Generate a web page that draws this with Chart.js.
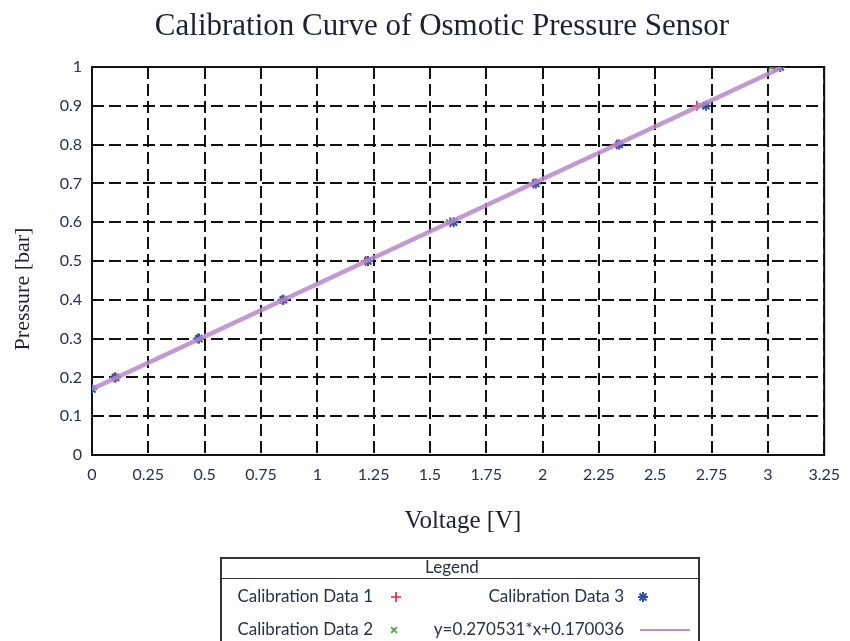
<!DOCTYPE html>
<html>
<head>
<meta charset="utf-8">
<script src="https://cdn.jsdelivr.net/npm/chart.js@4.4.1/dist/chart.umd.min.js"></script>
<style>
  html, body { margin: 0; padding: 0; background: #ffffff; }
  #wrap { position: relative; width: 850px; height: 641px; }
</style>
</head>
<body>
<div id="wrap"><canvas id="c" width="850" height="641"></canvas></div>
<script>
// ---- Data ----
const chartTitle = "Calibration Curve of Osmotic Pressure Sensor";
const xAxisTitle = "Voltage [V]";
const yAxisTitle = "Pressure [bar]";
const seriesNames = ["Calibration Data 1", "Calibration Data 2", "Calibration Data 3", "y=0.270531*x+0.170036"];

const pressure = [0.17, 0.2, 0.3, 0.4, 0.5, 0.6, 0.7, 0.8, 0.9, 1.0];
const voltage1 = [0, 0.10, 0.47, 0.845, 1.215, 1.59, 1.96, 2.33, 2.685, 3.03];
const voltage2 = [0, 0.10, 0.47, 0.845, 1.22, 1.585, 1.965, 2.335, 2.705, 3.015];
const voltage3 = [0, 0.105, 0.475, 0.85, 1.225, 1.605, 1.97, 2.34, 2.725, 3.055];

const fitVoltage = [0, 3.06];
const fitPressure = [0.17, 0.998];

const xTicks = [0, 0.25, 0.5, 0.75, 1, 1.25, 1.5, 1.75, 2, 2.25, 2.5, 2.75, 3, 3.25];
const yTicks = [0, 0.1, 0.2, 0.3, 0.4, 0.5, 0.6, 0.7, 0.8, 0.9, 1];

const toPoints = (xs, ys) => xs.map((x, i) => ({ x: x, y: ys[i] }));

const TEXT = "#26314a";
const SANS = "Lato, 'Open Sans', sans-serif";
const SERIF = "'Liberation Serif', 'DejaVu Serif', serif";

const datasets = [
  { label: seriesNames[0], data: toPoints(voltage1, pressure), showLine: false,
    pointStyle: "cross", pointRadius: 5, borderColor: "#e8202a", backgroundColor: "#e8202a",
    pointBorderWidth: 1.6, order: 3 },
  { label: seriesNames[1], data: toPoints(voltage2, pressure), showLine: false,
    pointStyle: "crossRot", pointRadius: 4, borderColor: "#3aa83a", backgroundColor: "#3aa83a",
    pointBorderWidth: 1.6, order: 2 },
  { label: seriesNames[2], data: toPoints(voltage3, pressure), showLine: false,
    pointStyle: "star", pointRadius: 5, borderColor: "#2a4fb0", backgroundColor: "#2a4fb0",
    pointBorderWidth: 2, order: 1 },
  { label: seriesNames[3], data: toPoints(fitVoltage, fitPressure), showLine: true,
    pointRadius: 0, borderColor: "rgba(185,135,205,0.85)", borderWidth: 4.5, fill: false, order: 0 }
];

const framePlugin = {
  id: "frame",
  beforeDatasetsDraw(chart) {
    const { ctx, chartArea: a } = chart;
    ctx.save();
    ctx.strokeStyle = "#111";
    ctx.lineWidth = 2;
    ctx.strokeRect(a.left, a.top, a.right - a.left, a.bottom - a.top);
    ctx.restore();
  },
  afterDraw(chart) {
    const { ctx } = chart;
    ctx.save();
    // title
    ctx.fillStyle = "#1c2233";
    ctx.font = "31px " + SERIF;
    ctx.textAlign = "center";
    ctx.textBaseline = "middle";
    ctx.fillText(chartTitle, 442, 27);
    // axis titles
    ctx.font = "25px " + SERIF;
    ctx.fillText(xAxisTitle, 463, 521);
    ctx.font = "22px " + SERIF;
    ctx.translate(23, 289);
    ctx.rotate(-Math.PI / 2);
    ctx.fillText(yAxisTitle, 0, 0);
    ctx.restore();

    // legend box
    ctx.save();
    const L = 221, R = 699, T = 558;
    ctx.strokeStyle = "#333";
    ctx.lineWidth = 2;
    ctx.beginPath();
    ctx.moveTo(L, 650); ctx.lineTo(L, T); ctx.lineTo(R, T); ctx.lineTo(R, 650);
    ctx.stroke();
    ctx.lineWidth = 1;
    ctx.beginPath(); ctx.moveTo(L, 578.5); ctx.lineTo(R, 578.5); ctx.stroke();
    ctx.fillStyle = TEXT;
    ctx.font = "17px " + SANS;
    ctx.textBaseline = "middle";
    ctx.textAlign = "center";
    ctx.fillText("Legend", 452, 568);
    ctx.textAlign = "right";
    const rows = [
      { ds: 0, tx: 373, ty: 597, mx: 396 },
      { ds: 1, tx: 373, ty: 630, mx: 394 },
      { ds: 2, tx: 624, ty: 597, mx: 643 },
    ];
    rows.forEach(r => {
      const d = chart.data.datasets[r.ds];
      ctx.fillStyle = TEXT;
      ctx.fillText(d.label, r.tx, r.ty);
      ctx.strokeStyle = d.borderColor;
      ctx.fillStyle = d.backgroundColor;
      ctx.lineWidth = d.pointBorderWidth;
      Chart.helpers.drawPoint(ctx, { pointStyle: d.pointStyle, radius: d.pointRadius, rotation: 0, borderWidth: d.pointBorderWidth }, r.mx, r.ty);
    });
    const f = chart.data.datasets[3];
    ctx.fillStyle = TEXT;
    ctx.fillText(f.label, 624, 630);
    ctx.strokeStyle = "#a070b8";
    ctx.lineWidth = 1.5;
    ctx.beginPath(); ctx.moveTo(640, 630); ctx.lineTo(690, 630); ctx.stroke();
    ctx.restore();
  }
};

new Chart(document.getElementById("c"), {
  type: "scatter",
  data: { datasets: datasets },
  options: {
    responsive: false,
    animation: false,
    layout: { padding: { top: 67, left: 0, right: 24, bottom: 101 } },
    plugins: { legend: { display: false }, title: { display: false }, tooltip: { enabled: false } },
    scales: {
      x: {
        type: "linear", min: 0, max: 3.25,
        afterFit(s) { s.height = 85; },
        afterBuildTicks(s) { s.ticks = xTicks.map(v => ({ value: v })); },
        ticks: { color: TEXT, font: { family: SANS, size: 16 }, padding: 10, maxRotation: 0,
                 autoSkip: false, callback: v => String(v) },
        grid: { color: "#111", lineWidth: 2, drawTicks: false },
        border: { display: false, dash: [12, 5] }
      },
      y: {
        type: "linear", min: 0, max: 1,
        afterFit(s) { s.width = 92; },
        afterBuildTicks(s) { s.ticks = yTicks.map(v => ({ value: v })); },
        ticks: { color: TEXT, font: { family: SANS, size: 16 }, padding: 10,
                 autoSkip: false, callback: v => String(v) },
        grid: { color: "#111", lineWidth: 2, drawTicks: false },
        border: { display: false, dash: [12, 5] }
      }
    }
  },
  plugins: [framePlugin]
});
</script>
</body>
</html>
